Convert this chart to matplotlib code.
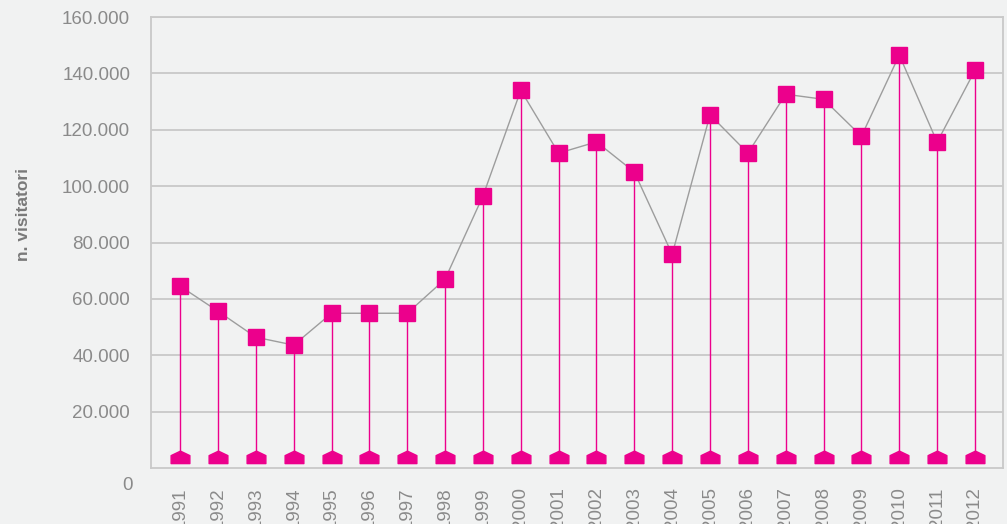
import matplotlib
matplotlib.use('Agg')
from matplotlib import pyplot as plt
from matplotlib.path import Path
import numpy as np

years = ['1991', '1992', '1993', '1994', '1995', '1996', '1997', '1998', '1999', '2000', '2001',
         '2002', '2003', '2004', '2005', '2006', '2007', '2008', '2009', '2010', '2011', '2012']
visitors = [64500, 55600, 46400, 43600, 54900, 54900, 54900, 67000, 96500, 134000, 111700,
            115700, 105000, 75800, 125300, 111700, 132600, 130800, 117700, 146500, 115600, 141100]
base_value = 4000
y_ticks = [20000, 40000, 60000, 80000, 100000, 120000, 140000, 160000]

bg = '#f1f2f2'
pink = '#ec008c'
grey_txt = '#8a8a8a'
grid_col = '#c9c9c9'

plt.rcParams['font.family'] = ['Liberation Sans', 'DejaVu Sans']

fig = plt.figure(figsize=(10.07, 5.24), dpi=100, facecolor=bg)
ax = fig.add_axes([151 / 1007, 1 - 468 / 524, (1003 - 151) / 1007, (468 - 17) / 524])
ax.set_facecolor(bg)

x = np.arange(len(years))

# house-shaped marker for the base of each stem
house = Path([(-1, -0.65), (1, -0.65), (1, 0.2), (0, 0.68), (-1, 0.2), (-1, -0.65)],
             [Path.MOVETO, Path.LINETO, Path.LINETO, Path.LINETO, Path.LINETO, Path.CLOSEPOLY])

ax.vlines(x, base_value, visitors, color=pink, lw=1, zorder=2)
ax.plot(x, visitors, color='#9d9d9d', lw=1, zorder=3)
ax.plot(x, visitors, ls='none', marker='s', ms=11.5, color=pink, mec=pink, zorder=4)
ax.plot(x, [base_value] * len(x), ls='none', marker=house, ms=13.5, color=pink, mec=pink, zorder=4)

ax.set_xlim(-0.77, len(years) - 1 + 0.74)
ax.set_ylim(0, 160000)
ax.set_yticks(y_ticks)
ax.set_yticklabels(['{:,}'.format(v).replace(',', '.') for v in y_ticks])
ax.set_xticks(x)
ax.set_xticklabels(years, rotation=90)
ax.tick_params(axis='both', length=0, colors=grey_txt, labelsize=13.5)
ax.tick_params(axis='y', pad=15)
ax.tick_params(axis='x', pad=14)
ax.grid(axis='y', color=grid_col, lw=1.3)
ax.set_axisbelow(True)
for s in ax.spines.values():
    s.set_color(grid_col)
    s.set_linewidth(1.3)

ax.text(-0.021, -0.038, '0', transform=ax.transAxes, ha='right', va='center',
        color=grey_txt, fontsize=13.5)
fig.text(24 / 1007, 1 - 214 / 524, 'n. visitatori', rotation=90, ha='center', va='center',
         color='#7a7a7a', fontsize=12.5, fontweight='bold')

fig.savefig('out.png', dpi=100, facecolor=bg)
